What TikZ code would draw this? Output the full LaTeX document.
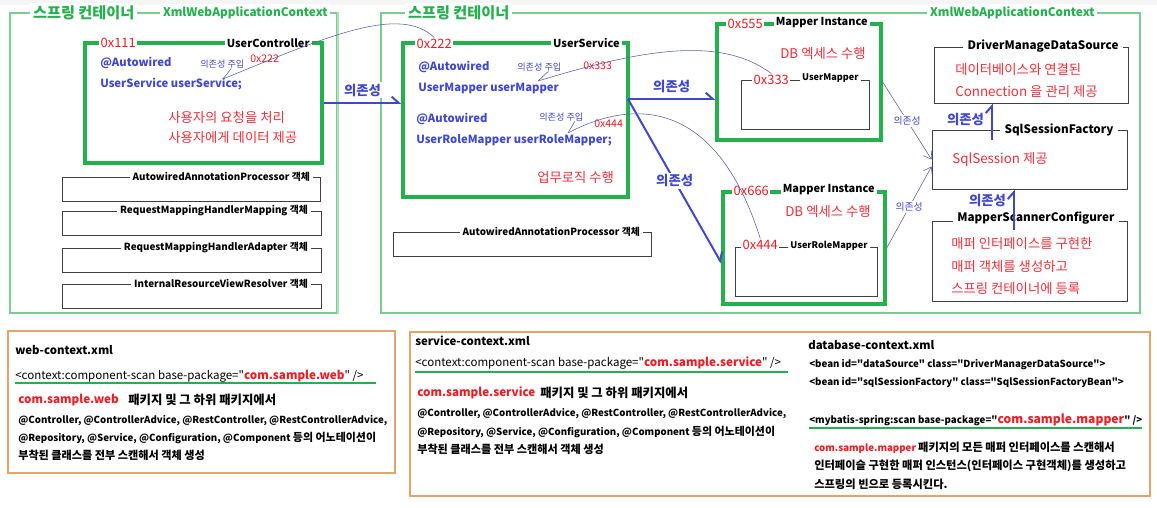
\documentclass[tikz,border=0pt]{standalone}
\usepackage{fontspec}
\setmainfont{Noto Sans CJK KR}[Ligatures=TeXOff]
\usepackage{xcolor}
\usetikzlibrary{arrows.meta,positioning,fit,calc}
\definecolor{beangreen}{HTML}{22B14C}
\definecolor{ctxgreen}{HTML}{7CCB92}
\definecolor{depblue}{HTML}{3F48CC}
\definecolor{wireblue}{HTML}{5A5EA8}
\definecolor{addrred}{HTML}{ED1C24}
\definecolor{memored}{HTML}{F0303A}
\definecolor{objgray}{HTML}{404040}
\definecolor{xmlorange}{HTML}{E6A46C}
\newcommand\pkgname[1]{{\color{addrred}\fontsize{8.3}{9}\selectfont\bfseries #1}}
\newcommand\krtext[2]{{\fontsize{#1}{9}\selectfont #2}}

\begin{document}
\begin{tikzpicture}[x=0.025cm, y=-0.025cm,
  ctx/.style={draw=ctxgreen, line width=0.9pt, inner sep=0pt},
  bean/.style={draw=beangreen, line width=2.4pt, inner sep=0pt},
  obj/.style={draw=objgray, line width=0.7pt, inner sep=0pt},
  xml/.style={draw=xmlorange, line width=0.8pt, inner sep=0pt},
  ctxtitle/.style={fill=white, inner sep=2pt, text=beangreen, font=\fontsize{8.4}{10}\selectfont\bfseries},
  ctxkor/.style={ctxtitle, font=\fontsize{10.8}{12}\selectfont\bfseries},
  addr/.style={fill=white, inner sep=1pt, text=addrred, font=\fontsize{9.2}{10}\selectfont},
  beanname/.style={fill=white, inner sep=1.5pt, font=\fontsize{7.8}{9}\selectfont\bfseries},
  dbname/.style={fill=white, inner sep=3pt, font=\fontsize{8.3}{9}\selectfont\bfseries},
  objname/.style={fill=white, inner sep=2pt, font=\fontsize{7}{8}\selectfont\bfseries},
  mappername/.style={objname, inner sep=1.5pt, font=\fontsize{6.5}{7}\selectfont\bfseries},
  txt/.style={anchor=west, inner sep=0pt},
  code/.style={txt, text=depblue, font=\fontsize{8}{9}\selectfont\bfseries},
  memo/.style={txt, text=memored, font=\fontsize{9.5}{10}\selectfont},
  inject/.style={txt, text=depblue, font=\fontsize{6.5}{7}\selectfont},
  ptr/.style={txt, text=addrred, font=\fontsize{7.5}{8}\selectfont},
  dep/.style={depblue, line width=1.4pt, -{Straight Barb[left, length=5pt, width=9pt]}},
  deplabel/.style={fill=white, inner sep=1pt, text=depblue, font=\fontsize{9.5}{10}\selectfont\bfseries},
  wire/.style={wireblue, line width=0.4pt},
  link/.style={wire, -{Straight Barb[length=5pt, width=7pt]}},
  linklabel/.style={fill=white, inner sep=1pt, text=depblue, font=\fontsize{7}{8}\selectfont},
  xmlname/.style={txt, font=\fontsize{8.1}{9}\selectfont\bfseries},
  xmltag/.style={txt, font=\fontsize{8.2}{9}\selectfont},
  xmltext/.style={txt, font=\fontsize{6.9}{8}\selectfont\bfseries},
  scanline/.style={beangreen, line width=1.3pt}
]
  \useasboundingbox (0,0) rectangle (1157,507);
  \fill[white] (0,0) rectangle (1157,507);
  \fill[black!4] (0,0) rectangle (1157,5);

  % spring containers
  \node[ctx, fit={(10,13)(337,313)}] (webctx) {};
  \draw[ctxgreen!60, line width=1.6pt] (webctx.north east) -- (webctx.south east);
  \node[ctx, fit={(381,13)(1140,313)}] (rootctx) {};
  \node[ctxkor, anchor=west] (webtitle)   at (30,13)  {스프링 컨테이너};
  \node[ctxtitle, anchor=west] (webclass)   at (160,13) {XmlWebApplicationContext};
  \node[ctxkor, anchor=west] (roottitle)  at (405,13) {스프링 컨테이너};
  \node[ctxtitle, anchor=west] (rootclass)  at (927,13) {XmlWebApplicationContext};

  % web layer
  \node[bean, fit={(85,43)(322,163)}] (ctrl) {};
  \node[addr, anchor=west] (ctrladdr) at (99,43) {0x111};
  \node[beanname, anchor=east] (ctrlname) at (312,43) {UserController};
  \node[code] (ctrlanno) at (100,63) {@Autowired};
  \node[code] (ctrlfield) at (100,84) {UserService userService;};
  \node[inject] (ctrlinjlbl) at (200,64) {의존성 주입};
  \node[ptr] (ctrlptr) at (250,59) {0x222};
  \node[memo] (ctrlmemo1) at (168,117) {사용자의 요청을 처리};
  \node[memo] (ctrlmemo2) at (168,137) {사용자에게 데이터 제공};

  \node[obj, fit={(62,177)(320,201)}] (webobj1) {};
  \node[objname, anchor=east] (webobj1name) at (313,177) {AutowiredAnnotationProcessor 객체};
  \node[obj, fit={(62,211)(321,235)}] (webobj2) {};
  \node[objname, anchor=east] (webobj2name) at (311,211) {RequestMappingHandlerMapping 객체};
  \node[obj, fit={(62,248)(321,272)}] (webobj3) {};
  \node[objname, anchor=east] (webobj3name) at (311,248) {RequestMappingHandlerAdapter 객체};
  \node[obj, fit={(62,284)(321,308)}] (webobj4) {};
  \node[objname, anchor=east] (webobj4name) at (311,284) {InternalResourceViewResolver 객체};

  % service layer
  \node[bean, fit={(403,43)(628,197)}] (svc) {};
  \node[addr, anchor=west] (svcaddr) at (415,44) {0x222};
  \node[beanname, anchor=east] (svcname) at (622,43) {UserService};
  \node[code] (svcanno1) at (418,67) {@Autowired};
  \node[code] (svcfield1) at (418,88) {UserMapper userMapper};
  \node[inject] (svcinj1) at (517,67) {의존성 주입};
  \node[ptr] (svcptr1) at (583,66) {0x333};
  \node[code] (svcanno2) at (416,119) {@Autowired};
  \node[code] (svcfield2) at (416,140) {UserRoleMapper userRoleMapper;};
  \node[inject] (svcinj2) at (539,117) {의존성 주입};
  \node[ptr] (svcptr2) at (594,124) {0x444};
  \node[memo] (svcmemo) at (537,177) {업무로직 수행};

  \node[obj, fit={(393,232)(651,256)}] (rootobj) {};
  \node[objname, anchor=east] (rootobjname) at (643,232) {AutowiredAnnotationProcessor 객체};

  % mapper instances
  \node[bean, fit={(717,24)(881,140)}] (mapA) {};
  \node[addr, anchor=west] (mapAaddr) at (726,24) {0x555};
  \node[beanname, anchor=east] (mapAname) at (870,23) {Mapper Instance};
  \node[memo] (mapAmemo) at (780,54) {DB 엑세스 수행};
  \node[obj, fit={(741,80)(869,129)}] (umap) {};
  \node[addr, anchor=west] (umapaddr) at (752,80) {0x333};
  \node[mappername, anchor=east] (umapname) at (861,78) {UserMapper};

  \node[bean, fit={(723,192)(885,304)}] (mapB) {};
  \node[addr, anchor=west] (mapBaddr) at (732,191) {0x666};
  \node[beanname, anchor=east] (mapBname) at (877,190) {Mapper Instance};
  \node[memo] (mapBmemo) at (785,211) {DB 엑세스 수행};
  \node[obj, fit={(735,247)(877,296)}] (urole) {};
  \node[addr, anchor=west] (uroleaddr) at (741,245) {0x444};
  \node[mappername, anchor=east] (urolename) at (870,246) {UserRoleMapper};

  % mybatis beans
  \node[obj, fit={(934,47)(1128,103)}] (dsrc) {};
  \node[dbname] (dsrcname) at (1043,46) {DriverManageDataSource};
  \node[memo] (dsrcmemo1) at (955,70) {데이터베이스와 연결된};
  \node[memo] (dsrcmemo2) at (955,92) {Connection 을 관리 제공};

  \node[obj, fit={(932,130)(1127,189)}] (sqlf) {};
  \node[dbname] (sqlfname) at (1059,130) {SqlSessionFactory};
  \node[memo] (sqlfmemo) at (952,160) {SqlSession 제공};

  \node[obj, fit={(932,221)(1127,301)}] (mscan) {};
  \node[dbname] (mscanname) at (1036,218) {MapperScannerConfigurer};
  \node[memo] (mscanmemo1) at (951,243) {매퍼 인터페이스를 구현한};
  \node[memo] (mscanmemo2) at (951,266) {매퍼 객체를 생성하고};
  \node[memo] (mscanmemo3) at (951,288) {스프링 컨테이너에 등록};

  % dependencies
  \coordinate (svcout) at (628,99);
  \coordinate (sqlfup) at (992,140);
  \coordinate (mscanup) at (1014,230);
  \draw[dep] (ctrl.east) -- (ctrl.east -| svc.west) node[deplabel, midway, above=3pt] (dep1) {의존성};
  \draw[dep] (svcout) -- (svcout -| mapA.west) node[deplabel, midway, above=3pt] (dep2) {의존성};
  \draw[dep] (svcout) -- ($(mapB.west)+(0,15)$) node[deplabel, midway] (dep3) {의존성};
  \draw[dep] (sqlfup) -- (sqlfup |- dsrc.south) node[deplabel, pos=0.55, left=4pt] (dep4) {의존성};
  \draw[dep] (mscanup) -- (mscanup |- sqlf.south) node[deplabel, pos=0.72, left=4pt] (dep5) {의존성};
  \draw[link] (mapA.east) -- node[linklabel] (link1) {의존성} (sqlf.west);
  \draw[link] (mapB.east) -- node[linklabel] (link2) {의존성} ($(sqlf.west)+(0,7)$);

  % injection wires
  \coordinate (ctrlinj) at (223,79);
  \coordinate (svcinjA) at (538,81);
  \coordinate (svcinjB) at (568,133);
  \draw[wire] (ctrlinj) -- ($(ctrlinjlbl.south)!0.4!(ctrlinjlbl.south east)$);
  \draw[wire] (ctrlinj) .. controls (330,35) and (400,5) .. (svcaddr.north);
  \draw[wire] (svcinjA) -- ($(svcinj1.south)!0.4!(svcinj1.south east)$);
  \draw[wire] (svcinjA) .. controls (640,50) and (720,35) .. (umapaddr.north);
  \draw[wire] (svcinjB) -- ($(svcinj2.south)!0.6!(svcinj2.south east)$);
  \draw[wire] (svcinjB) .. controls (630,100) and (715,95) .. (uroleaddr.north);

  % xml files
  \node[xml, fit={(8,331)(395,473)}] (webxml) {};
  \node[xmlname] (webxmlname) at (15,350) {web-context.xml};
  \node[xmltag] (webxmltag) at (15,376) {<context:component-scan base-package="\pkgname{com.sample.web}" />};
  \draw[scanline] (15,383) -- (376,383);
  \node[xmltext] (webxml1) at (18,400) {\pkgname{com.sample.web}};
  \node[xmltext] (webxml1b) at (128,400) {\krtext{8.8}{패키지 및 그 하위 패키지에서}};
  \node[xmltext] (webxml2) at (18,421) {@Controller, @ControllerAdvice, @RestController, @RestControllerAdvice,};
  \node[xmltext] (webxml3) at (18,438) {@Repository, @Service, @Configuration, @Component \krtext{7.8}{등의 어노테이션이}};
  \node[xmltext] (webxml4) at (18,455) {\krtext{7.9}{부착된 클래스를 전부 스캔해서 객체 생성}};

  \node[xml, fit={(410,332)(1150,496)}] (rootxml) {};
  \node[xmlname] (svcxmlname) at (415,341) {service-context.xml};
  \node[xmltag] (svcxmltag) at (415,363) {<context:component-scan base-package="\pkgname{com.sample.service}" />};
  \draw[scanline] (415,372) -- (788,372);
  \node[xmltext] (svcxml1) at (417,393) {\pkgname{com.sample.service}};
  \node[xmltext] (svcxml1b) at (540,393) {\krtext{8.8}{패키지 및 그 하위 패키지에서}};
  \node[xmltext] (svcxml2) at (417,414) {@Controller, @ControllerAdvice, @RestController, @RestControllerAdvice,};
  \node[xmltext] (svcxml3) at (417,432) {@Repository, @Service, @Configuration, @Component \krtext{7.8}{등의 어노테이션이}};
  \node[xmltext] (svcxml4) at (417,449) {\krtext{7.9}{부착된 클래스를 전부 스캔해서 객체 생성}};

  \node[xmlname] (dbxmlname) at (808,345) {database-context.xml};
  \node[xmltext] (dbxml1) at (809,365) {<bean id="dataSource" class="DriverManagerDataSource">};
  \node[xmltext] (dbxml2) at (809,383) {<bean id="sqlSessionFactory" class="SqlSessionFactoryBean">};
  \node[xmltext] (dbxml3) at (809,420) {<mybatis-spring:scan base-package="{\color{addrred}\fontsize{8.6}{10}\selectfont com.sample.mapper}" />};
  \draw[scanline] (809,428) -- (1142,428);
  \node[xmltext] (dbxml4) at (814,448) {{\color{addrred}com.sample.mapper} \krtext{8}{패키지의 모든 매퍼 인터페이스를 스캔해서}};
  \node[xmltext] (dbxml5) at (814,466) {\krtext{8}{인터페이슬 구현한 매퍼 인스턴스(인터페이스 구현객체)를 생성하고}};
  \node[xmltext] (dbxml6) at (814,484) {\krtext{8}{스프링의 빈으로 등록시킨다.}};
\end{tikzpicture}
\end{document}
